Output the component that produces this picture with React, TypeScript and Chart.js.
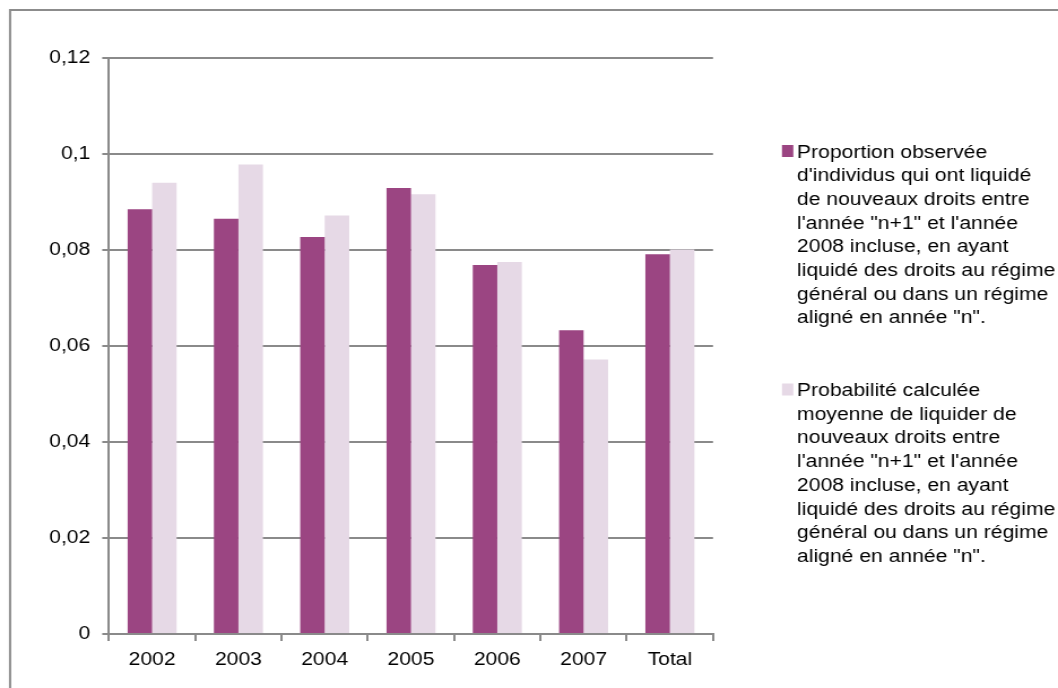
import React, { useEffect, useRef } from 'react';
import { Chart, registerables } from 'chart.js';

Chart.register(...registerables);

const categories = ['2002', '2003', '2004', '2005', '2006', '2007', 'Total'];
const observed = [0.0885, 0.0865, 0.0827, 0.0929, 0.0769, 0.0633, 0.0791];
const calculated = [0.094, 0.0978, 0.0872, 0.0916, 0.0775, 0.0572, 0.0801];
const yTicks = [0, 0.02, 0.04, 0.06, 0.08, 0.1, 0.12];

const observedLegend = [
  'Proportion observée',
  "d'individus qui ont liquidé",
  'de nouveaux droits entre',
  'l\'année "n+1" et l\'année',
  '2008 incluse, en ayant',
  'liquidé des droits au régime',
  'général ou dans un régime',
  'aligné en année "n".',
];
const calculatedLegend = [
  'Probabilité calculée',
  'moyenne de liquider de',
  'nouveaux droits entre',
  'l\'année "n+1" et l\'année',
  '2008 incluse, en ayant',
  'liquidé des droits au régime',
  'général ou dans un régime',
  'aligné en année "n".',
];

const DARK = '#9B4582';
const LIGHT = '#E6D9E6';
const GRID = '#8a8a8a';
const FAMILY = '"Liberation Sans", Arial, Helvetica, sans-serif';
const FONT_SIZE = 18.7;

// internal canvas width; stretched horizontally to 1058 css px
const CW = 936;
const CH = 688;

const legendLines = [observedLegend, calculatedLegend];

const framePlugin = {
  id: 'frame',
  beforeDraw(chart: any) {
    const ctx = chart.ctx;
    ctx.save();
    ctx.strokeStyle = '#8c8c8c';
    ctx.lineWidth = 2;
    ctx.strokeRect(8.9, 10, 3000, 3000);
    ctx.restore();
  },
};

const wrappedLegend = {
  id: 'wrappedLegend',
  afterDraw(chart: any) {
    const ctx = chart.ctx;
    ctx.save();
    ctx.font = `${FONT_SIZE}px ${FAMILY}`;
    ctx.textBaseline = 'alphabetic';
    ctx.textAlign = 'left';
    const lh = 23.7;
    let base = 157.5;
    chart.data.datasets.forEach((ds: any, i: number) => {
      const lines = legendLines[i];
      ctx.fillStyle = ds.backgroundColor;
      ctx.fillRect(691.8, base - 12.5, 10, 12);
      ctx.fillStyle = '#000';
      lines.forEach((l: string, j: number) => ctx.fillText(l, 705.1, base + j * lh));
      base += (lines.length - 1) * lh + 72.6;
    });
    ctx.restore();
  },
};

export default function App() {
  const ref = useRef<HTMLCanvasElement | null>(null);

  useEffect(() => {
    if (!ref.current) return;
    const font = { family: FAMILY, size: FONT_SIZE };
    const chart = new Chart(ref.current, {
      type: 'bar',
      data: {
        labels: categories,
        datasets: [
          {
            label: observedLegend.join(' '),
            data: observed,
            backgroundColor: DARK,
            borderWidth: 0,
            categoryPercentage: 0.568,
            barPercentage: 1,
          },
          {
            label: calculatedLegend.join(' '),
            data: calculated,
            backgroundColor: LIGHT,
            borderWidth: 0,
            categoryPercentage: 0.568,
            barPercentage: 1,
          },
        ],
      },
      options: {
        responsive: false,
        animation: false,
        devicePixelRatio: 1,
        layout: { padding: { left: 0, top: 58, right: CW - 630.8, bottom: 0 } },
        plugins: {
          legend: { display: false },
          tooltip: { enabled: false },
          title: { display: false },
        },
        scales: {
          x: {
            grid: {
              offset: true,
              drawOnChartArea: false,
              drawTicks: true,
              tickLength: 7,
              color: GRID,
              lineWidth: 2,
            },
            border: { display: true, color: GRID, width: 2 },
            ticks: { font, color: '#000', padding: 8, maxRotation: 0 },
            afterFit: (s: any) => {
              s.height = 54;
            },
          },
          y: {
            min: 0,
            max: 0.12,
            afterBuildTicks: (s: any) => {
              s.ticks = yTicks.map((v) => ({ value: v }));
            },
            grid: { color: GRID, lineWidth: 2, tickLength: 6 },
            border: { display: true, color: GRID, width: 2 },
            ticks: {
              font,
              color: '#000',
              padding: 10.5,
              callback: (v: any) => String(+Number(v).toFixed(2)).replace('.', ','),
            },
            afterFit: (s: any) => {
              s.width = 96.4;
            },
          },
        },
      },
      plugins: [framePlugin, wrappedLegend],
    });
    return () => chart.destroy();
  }, []);

  return (
    <div style={{ position: 'fixed', left: 0, top: 0, width: 1058, height: 688, background: '#fff', overflow: 'hidden' }}>
      <canvas
        ref={ref}
        width={CW}
        height={CH}
        style={{ width: '1058px', height: '688px', display: 'block' }}
      />
    </div>
  );
}
